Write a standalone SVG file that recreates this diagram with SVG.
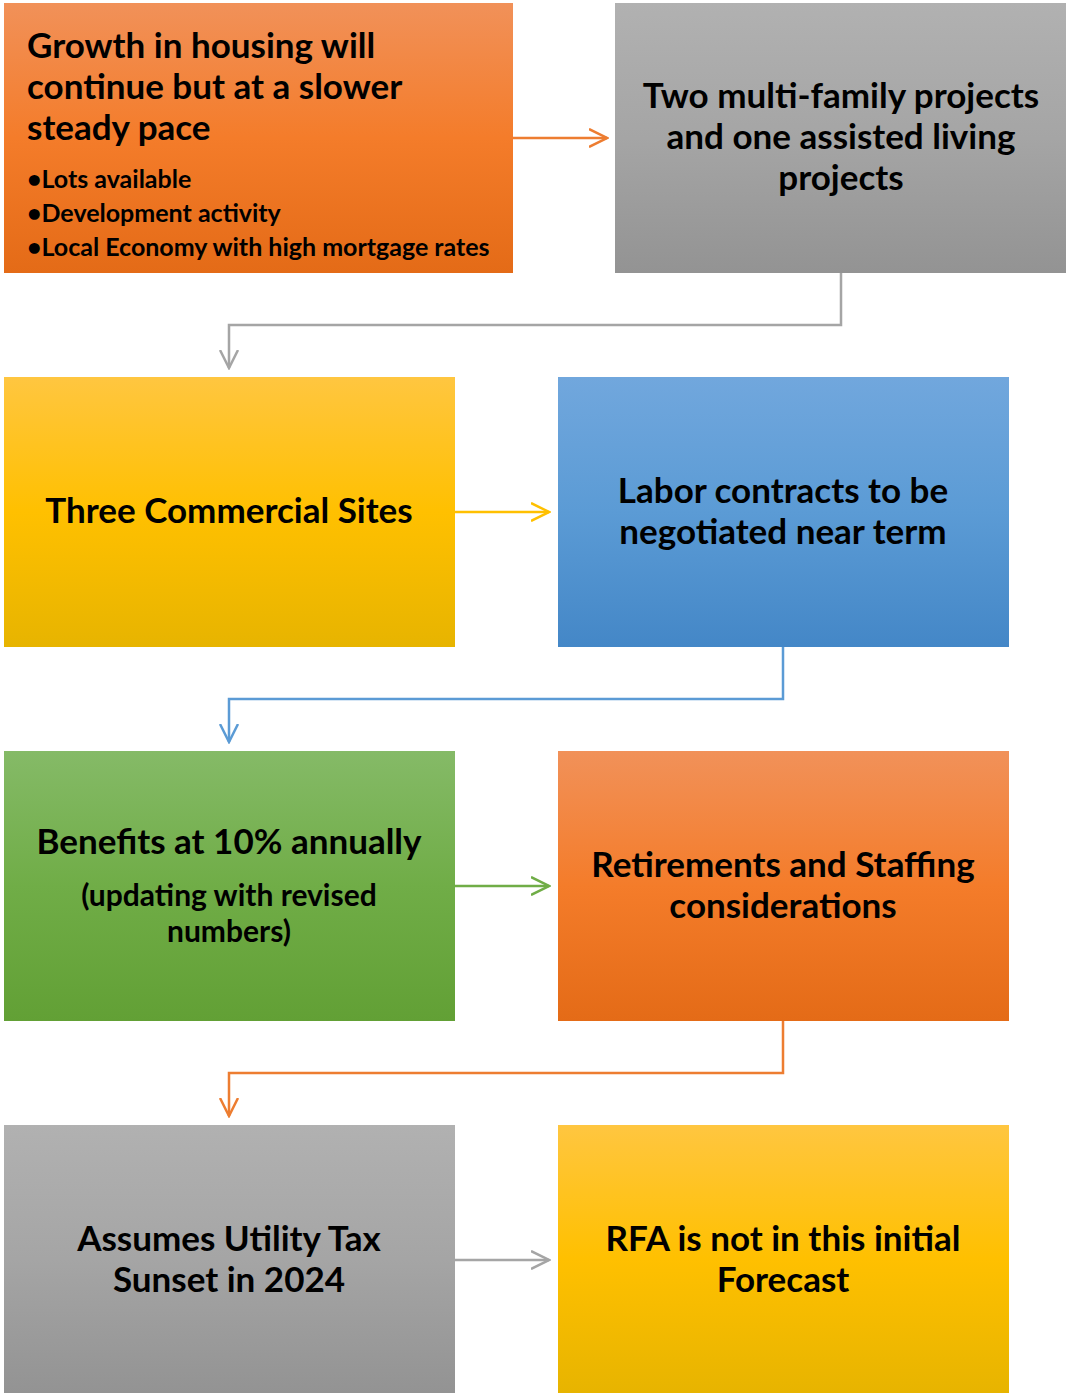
<svg xmlns="http://www.w3.org/2000/svg" width="1066" height="1393" viewBox="0 0 1066 1393">
<defs>
<linearGradient id="gOrange" x1="0" y1="0" x2="0" y2="1"><stop offset="0" stop-color="#F19159"/><stop offset="0.5" stop-color="#F47C2A"/><stop offset="1" stop-color="#E46B17"/></linearGradient>
<linearGradient id="gGray" x1="0" y1="0" x2="0" y2="1"><stop offset="0" stop-color="#B1B1B1"/><stop offset="0.5" stop-color="#A5A5A5"/><stop offset="1" stop-color="#939393"/></linearGradient>
<linearGradient id="gYellow" x1="0" y1="0" x2="0" y2="1"><stop offset="0" stop-color="#FFC640"/><stop offset="0.5" stop-color="#FFC000"/><stop offset="1" stop-color="#E7B400"/></linearGradient>
<linearGradient id="gBlue" x1="0" y1="0" x2="0" y2="1"><stop offset="0" stop-color="#71A7DD"/><stop offset="0.5" stop-color="#5B9BD5"/><stop offset="1" stop-color="#4487C7"/></linearGradient>
<linearGradient id="gGreen" x1="0" y1="0" x2="0" y2="1"><stop offset="0" stop-color="#85BA67"/><stop offset="0.5" stop-color="#70AD47"/><stop offset="1" stop-color="#62A035"/></linearGradient>
<marker id="aOrange" markerWidth="20" markerHeight="20" refX="18" refY="10" orient="auto" markerUnits="userSpaceOnUse"><path d="M0,1 L18,10 L0,19" fill="none" stroke="#ED7D31" stroke-width="2.5"/></marker>
<marker id="aGray" markerWidth="20" markerHeight="20" refX="18" refY="10" orient="auto" markerUnits="userSpaceOnUse"><path d="M0,1 L18,10 L0,19" fill="none" stroke="#A5A5A5" stroke-width="2.5"/></marker>
<marker id="aYellow" markerWidth="20" markerHeight="20" refX="18" refY="10" orient="auto" markerUnits="userSpaceOnUse"><path d="M0,1 L18,10 L0,19" fill="none" stroke="#FFC000" stroke-width="2.5"/></marker>
<marker id="aBlue" markerWidth="20" markerHeight="20" refX="18" refY="10" orient="auto" markerUnits="userSpaceOnUse"><path d="M0,1 L18,10 L0,19" fill="none" stroke="#5B9BD5" stroke-width="2.5"/></marker>
<marker id="aGreen" markerWidth="20" markerHeight="20" refX="18" refY="10" orient="auto" markerUnits="userSpaceOnUse"><path d="M0,1 L18,10 L0,19" fill="none" stroke="#70AD47" stroke-width="2.5"/></marker>
</defs>
<style>
text{font-family:Lato,"Liberation Sans",sans-serif;font-weight:bold;fill:#000}
.t{font-size:35px}
.c{text-anchor:middle}
.b{font-size:25px}
.s{font-size:30px}
.cn{fill:none;stroke-width:2.5}
</style>
<g id="connectors">
<path class="cn" stroke="#ED7D31" d="M513,138 H607" marker-end="url(#aOrange)"/>
<path class="cn" stroke="#A5A5A5" d="M841,273 V325 H229 V368" marker-end="url(#aGray)"/>
<path class="cn" stroke="#FFC000" d="M455,512 H549" marker-end="url(#aYellow)"/>
<path class="cn" stroke="#5B9BD5" d="M783,647 V699 H229 V742" marker-end="url(#aBlue)"/>
<path class="cn" stroke="#70AD47" d="M455,886 H549" marker-end="url(#aGreen)"/>
<path class="cn" stroke="#ED7D31" d="M783,1021 V1073 H229 V1116" marker-end="url(#aOrange)"/>
<path class="cn" stroke="#A5A5A5" d="M455,1260 H549" marker-end="url(#aGray)"/>
</g>
<g id="n1">
<rect x="4" y="3" width="509" height="270" fill="url(#gOrange)"/>
<text class="t" x="27" y="58">Growth in housing will</text>
<text class="t" x="27" y="99">continue but at a slower</text>
<text class="t" x="27" y="140">steady pace</text>
<text class="b" x="27" y="188">•Lots available</text>
<text class="b" x="27" y="222">•Development activity</text>
<text class="b" x="27" y="256">•Local Economy with high mortgage rates</text>
</g>
<g id="n2">
<rect x="615" y="3" width="451" height="270" fill="url(#gGray)"/>
<text class="t c" x="841" y="108">Two multi-family projects</text>
<text class="t c" x="841" y="149">and one assisted living</text>
<text class="t c" x="841" y="190">projects</text>
</g>
<g id="n3">
<rect x="4" y="377" width="451" height="270" fill="url(#gYellow)"/>
<text class="t c" x="229" y="523">Three Commercial Sites</text>
</g>
<g id="n4">
<rect x="558" y="377" width="451" height="270" fill="url(#gBlue)"/>
<text class="t c" x="783" y="503">Labor contracts to be</text>
<text class="t c" x="783" y="544">negotiated near term</text>
</g>
<g id="n5">
<rect x="4" y="751" width="451" height="270" fill="url(#gGreen)"/>
<text class="t c" x="229" y="854">Benefits at 10% annually</text>
<text class="s c" x="229" y="906">(updating with revised</text>
<text class="s c" x="229" y="942">numbers)</text>
</g>
<g id="n6">
<rect x="558" y="751" width="451" height="270" fill="url(#gOrange)"/>
<text class="t c" x="783" y="877">Retirements and Staffing</text>
<text class="t c" x="783" y="918">considerations</text>
</g>
<g id="n7">
<rect x="4" y="1125" width="451" height="268" fill="url(#gGray)"/>
<text class="t c" x="229" y="1251">Assumes Utility Tax</text>
<text class="t c" x="229" y="1292">Sunset in 2024</text>
</g>
<g id="n8">
<rect x="558" y="1125" width="451" height="268" fill="url(#gYellow)"/>
<text class="t c" x="783" y="1251">RFA is not in this initial</text>
<text class="t c" x="783" y="1292">Forecast</text>
</g>
</svg>
